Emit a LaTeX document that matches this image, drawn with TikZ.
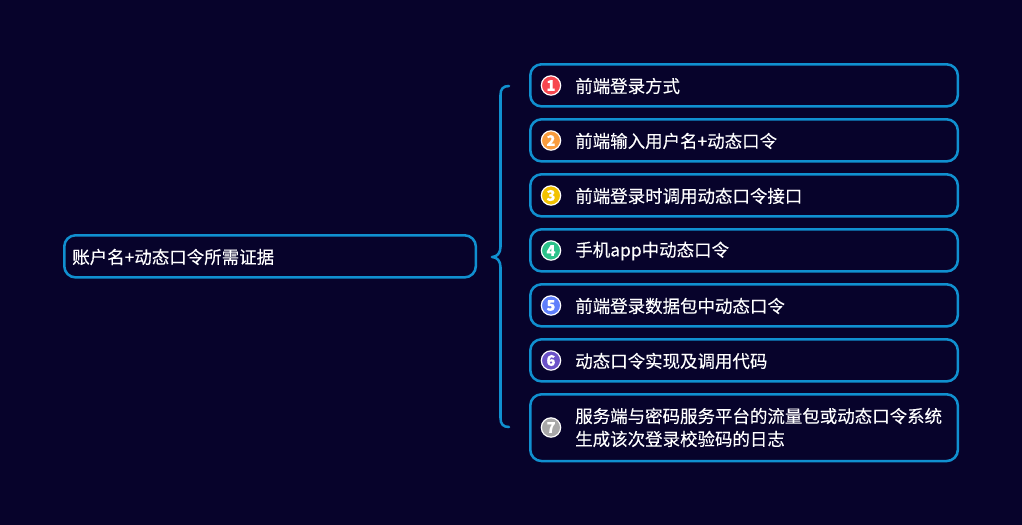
\documentclass[tikz,border=0pt]{standalone}
\usepackage{fontspec}
\setmainfont{Noto Sans CJK SC}[FakeBold=0.15]
\definecolor{bgdark}{HTML}{07032B}
\definecolor{boxblue}{HTML}{1090D0}
\definecolor{numred}{HTML}{F7474F}
\definecolor{numorange}{HTML}{F99D3E}
\definecolor{numyellow}{HTML}{F2C200}
\definecolor{numgreen}{HTML}{2DC28A}
\definecolor{numblue}{HTML}{5F7FFB}
\definecolor{numpurple}{HTML}{6B52C8}
\definecolor{numgrey}{HTML}{A8A8A8}
\tikzset{
	box/.style={draw=boxblue,line width=1.9pt,rounded corners=8.5pt,minimum width=#1,minimum height=31.6pt,anchor=north west,inner sep=0pt},
	num/.style={circle,draw=white,line width=.9pt,minimum size=14.5pt,inner sep=0pt,text=white,font=\fontsize{11pt}{11pt}\selectfont\bfseries},
	itemtext/.style={text=white,font=\fontsize{13.1pt}{17.2pt}\selectfont,inner sep=0pt,anchor=west,align=left},
}
\begin{document}
\begin{tikzpicture}[x=.75pt,y=-.75pt,line cap=round,line join=round]
	\useasboundingbox[fill=bgdark] (0,0) rectangle (1022,525);
	\node[box=308.7pt] (main) at (63,234) {};
	\node[itemtext] (maintext) at (72,257) {账户名+动态口令所需证据};
	\node[box=320.7pt] (b1) at (529,63) {};
	\node[box=320.7pt] (b2) at (529,118) {};
	\node[box=320.7pt] (b3) at (529,173) {};
	\node[box=320.7pt] (b4) at (529,228) {};
	\node[box=320.7pt] (b5) at (529,283) {};
	\node[box=320.7pt] (b6) at (529,338) {};
	\node[box=320.7pt,minimum height=50.1pt] (b7) at (529,393) {};
	\node[num,fill=numred] (n1) at (551,85.5) {1};
	\node[num,fill=numorange] (n2) at (551,140.5) {2};
	\node[num,fill=numyellow] (n3) at (551,195.5) {3};
	\node[num,fill=numgreen] (n4) at (551,250.5) {4};
	\node[num,fill=numblue] (n5) at (551,305.5) {5};
	\node[num,fill=numpurple] (n6) at (551,360.5) {6};
	\node[num,fill=numgrey] (n7) at (551,427.5) {7};
	\node[itemtext] (t1) at (575,86) {前端登录方式};
	\node[itemtext] (t2) at (575,141) {前端输入用户名+动态口令};
	\node[itemtext] (t3) at (575,196) {前端登录时调用动态口令接口};
	\node[itemtext] (t4) at (575,251) {手机app中动态口令};
	\node[itemtext] (t5) at (575,306) {前端登录数据包中动态口令};
	\node[itemtext] (t6) at (575,361) {动态口令实现及调用代码};
	\node[itemtext] (t7) at (575,427.5) {服务端与密码服务平台的流量包或动态口令系统\\生成该次登录校验码的日志};
	% brace from the main box to the first and last items
	\coordinate (bracetop) at (509,86);
	\coordinate (bracetip) at (492,257);
	\coordinate (bracebot) at (509,427);
	\draw[boxblue,line width=1.9pt] (bracetop) .. controls (503,86) and (500.5,89) .. (500.5,95) -- (500.5,247) .. controls (500.5,253) and (497,257) .. (bracetip) .. controls (497,257) and (500.5,261) .. (500.5,267) -- (500.5,418) .. controls (500.5,424) and (503,427) .. (bracebot);
\end{tikzpicture}
\end{document}
